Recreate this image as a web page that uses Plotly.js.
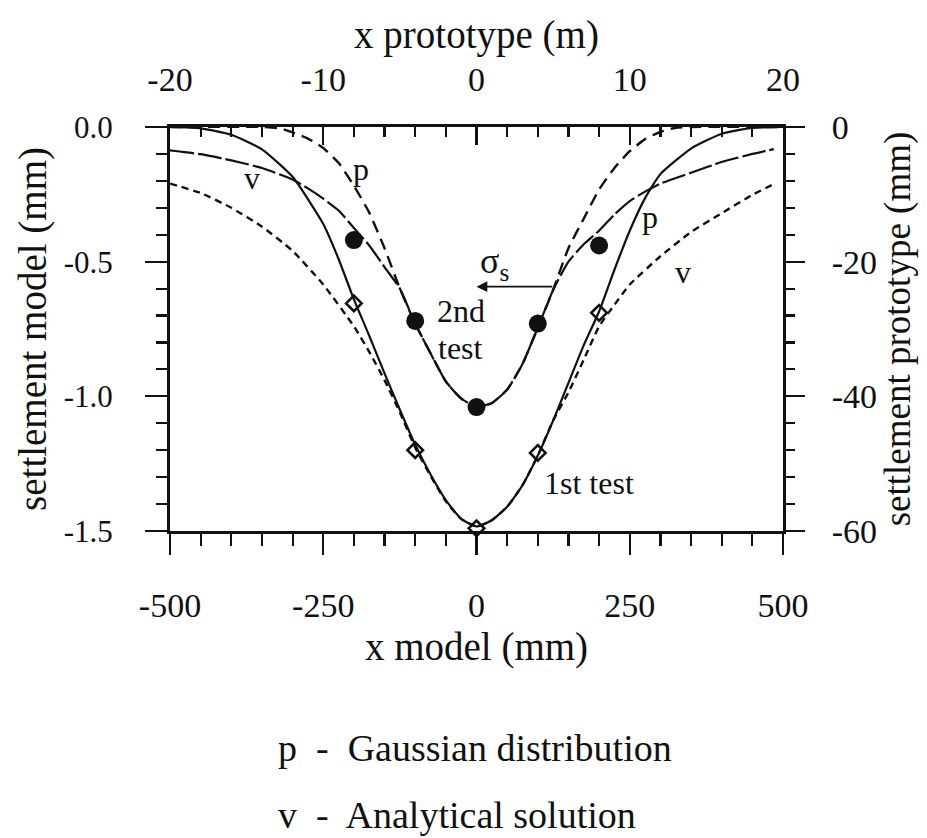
<!DOCTYPE html>
<html>
<head>
<meta charset="utf-8">
<script src="https://cdn.plot.ly/plotly-3.0.1.min.js"></script>
<style>html,body{margin:0;padding:0;background:#fff;}#chart{width:927px;height:838px;}</style>
</head>
<body>
<div id="chart"></div>
<script>
// ---- data (model units: x in mm, settlement in mm) ----
const test1GaussX = [-500,-450,-400,-350,-300,-250,-225,-200,-175,-150,-125,-100,-75,-50,-25,0,25,50,75,100,125,150,175,200,225,250,275,300,350,400,450,500];
const test1GaussY = [0,-0.005,-0.029,-0.083,-0.185,-0.36,-0.49,-0.64,-0.775,-0.915,-1.05,-1.18,-1.29,-1.385,-1.455,-1.483,-1.46,-1.41,-1.33,-1.22,-1.09,-0.95,-0.81,-0.685,-0.53,-0.385,-0.264,-0.175,-0.08,-0.025,-0.003,0];

const test1AnalX = [-500,-450,-400,-350,-300,-250,-200,-175,-150,-125,-100,-75,-50,-25,0,25,50,75,100,125,150,175,200,225,250,300,350,400,450,485];
const test1AnalY = [-0.21,-0.245,-0.30,-0.37,-0.46,-0.585,-0.74,-0.835,-0.94,-1.06,-1.19,-1.295,-1.39,-1.455,-1.483,-1.46,-1.41,-1.33,-1.22,-1.09,-0.985,-0.864,-0.74,-0.66,-0.585,-0.48,-0.39,-0.32,-0.252,-0.212];

const test2GaussX = [-500,-350,-320,-300,-275,-250,-225,-200,-175,-150,-125,-100,-75,-50,-25,0,25,50,75,100,125,150,175,200,225,250,275,300,325,350,500];
const test2GaussY = [0,0,-0.005,-0.02,-0.043,-0.078,-0.133,-0.218,-0.318,-0.45,-0.6,-0.73,-0.84,-0.945,-1.008,-1.039,-1.025,-0.975,-0.88,-0.745,-0.605,-0.45,-0.34,-0.232,-0.152,-0.09,-0.045,-0.018,-0.003,0,0];

const test2AnalX = [-500,-450,-400,-350,-300,-275,-250,-225,-200,-175,-150,-125,-100,-75,-50,-25,0,25,50,75,100,125,150,175,200,225,250,275,300,350,400,450,485];
const test2AnalY = [-0.087,-0.101,-0.124,-0.152,-0.195,-0.228,-0.266,-0.31,-0.375,-0.44,-0.52,-0.6,-0.73,-0.84,-0.945,-1.008,-1.039,-1.025,-0.975,-0.88,-0.745,-0.605,-0.5,-0.435,-0.385,-0.325,-0.275,-0.24,-0.21,-0.17,-0.13,-0.1,-0.082];

const test1PointsX = [-200,-100,0,100,200];
const test1PointsY = [-0.655,-1.20,-1.49,-1.21,-0.69];
const test2PointsX = [-200,-100,0,100,200];
const test2PointsY = [-0.42,-0.72,-1.04,-0.73,-0.44];

// model -> prototype scale factors (1:25 horizontal, 1:40 settlement)
const X_SCALE = 25;
const Y_SCALE = 40;

// ---- tick labels ----
const xModelTicks = [-500,-250,0,250,500];
const xModelLabels = ["-500","-250","0","250","500"];
const xProtoTicks = [-20,-10,0,10,20];
const xProtoLabels = ["-20","-10","0","10","20"];
const yModelTicks = [0,-0.5,-1.0,-1.5];
const yModelLabels = ["0.0","-0.5","-1.0","-1.5"];
const yProtoTicks = [0,-20,-40,-60];
const yProtoLabels = ["0","-20","-40","-60"];

const FONT = "Liberation Serif, Times New Roman, serif";
const BLACK = "#111";

const lineTrace = (x, y, dash, w) => ({
  type: "scatter", mode: "lines", x: x, y: y, xaxis: "x", yaxis: "y",
  line: {color: BLACK, width: w, dash: dash, shape: "spline", smoothing: 0.5},
  hoverinfo: "skip", showlegend: false
});

const traces = [
  lineTrace(test1AnalX, test1AnalY, "7px,5px", 2.4),
  lineTrace(test2AnalX, test2AnalY, "24px,4px", 2.2),
  lineTrace(test2GaussX, test2GaussY, "12px,7px", 2.4),
  lineTrace(test1GaussX, test1GaussY, "solid", 2.2),
  {type: "scatter", mode: "markers", x: test1PointsX, y: test1PointsY, xaxis: "x", yaxis: "y",
   marker: {symbol: "diamond-open", size: 12, color: BLACK, line: {width: 2.6, color: BLACK}},
   showlegend: false, hoverinfo: "skip", cliponaxis: false},
  // 2nd-test points plotted on the prototype axes (converted from the model values)
  {type: "scatter", mode: "markers",
   x: test2PointsX.map(v => v / X_SCALE), y: test2PointsY.map(v => v * Y_SCALE),
   xaxis: "x2", yaxis: "y2",
   marker: {symbol: "circle", size: 18, color: BLACK},
   showlegend: false, hoverinfo: "skip", cliponaxis: false}
];

const tickFont = {family: FONT, size: 34, color: BLACK};
const tickFontY = {family: FONT, size: 31, color: BLACK};
const titleFont = {family: FONT, size: 39, color: BLACK};

const layout = {
  width: 927, height: 838,
  margin: {l: 170, r: 144, t: 127, b: 307, pad: 0},
  paper_bgcolor: "#fff", plot_bgcolor: "#fff",
  showlegend: false,
  font: {family: FONT, color: BLACK},
  xaxis: {
    range: [-500, 500], tickmode: "array", tickvals: xModelTicks, ticktext: xModelLabels,
    ticks: "outside", ticklen: 21, tickwidth: 2.2, tickcolor: BLACK,
    minor: {dtick: 50, tick0: 0, ticks: "outside", ticklen: 12, tickwidth: 2.2, tickcolor: BLACK, showgrid: false},
    showline: true, linewidth: 3, linecolor: BLACK, showgrid: false, zeroline: false,
    tickfont: tickFont, ticklabelstandoff: 21, automargin: false,
    title: {text: "x model (mm)", font: titleFont, standoff: 10}
  },
  xaxis2: {
    overlaying: "x", side: "top", anchor: "y",
    range: [-20, 20], tickmode: "array", tickvals: xProtoTicks, ticktext: xProtoLabels,
    ticks: "inside", ticklen: 18, tickwidth: 2.2, tickcolor: BLACK,
    minor: {dtick: 2, tick0: 0, ticks: "inside", ticklen: 10, tickwidth: 2.2, tickcolor: BLACK, showgrid: false},
    showline: true, linewidth: 3, linecolor: BLACK, showgrid: false, zeroline: false,
    tickfont: tickFont, ticklabelstandoff: 19, automargin: false,
    title: {text: "x prototype (m)", font: titleFont, standoff: 1}
  },
  yaxis: {
    range: [-1.5, 0], tickmode: "array", tickvals: yModelTicks, ticktext: yModelLabels,
    ticks: "outside", ticklen: 22, tickwidth: 2.2, tickcolor: BLACK,
    minor: {dtick: 0.1, tick0: 0, ticks: "outside", ticklen: 11, tickwidth: 2.2, tickcolor: BLACK, showgrid: false},
    showline: true, linewidth: 3, linecolor: BLACK, showgrid: false, zeroline: false,
    tickfont: tickFontY, ticklabelstandoff: 26, automargin: false,
    title: {text: "settlement model (mm)", font: titleFont, standoff: 6}
  },
  yaxis2: {
    overlaying: "y", side: "right", anchor: "x",
    range: [-60, 0], tickmode: "array", tickvals: yProtoTicks, ticktext: yProtoLabels,
    ticks: "outside", ticklen: 19, tickwidth: 2.2, tickcolor: BLACK,
    minor: {dtick: 4, tick0: 0, ticks: "outside", ticklen: 9, tickwidth: 2.2, tickcolor: BLACK, showgrid: false},
    showline: true, linewidth: 3, linecolor: BLACK, showgrid: false, zeroline: false,
    tickfont: tickFont, ticklabelstandoff: 20, automargin: false,
    title: {text: "settlement prototype (mm)", font: {family: FONT, size: 37, color: BLACK}, standoff: 0}
  },
  annotations: [
    {x: -188, y: -0.155, xref: "x", yref: "y", text: "p", showarrow: false, font: {family: FONT, size: 32, color: BLACK}},
    {x: -367, y: -0.19, xref: "x", yref: "y", text: "v", showarrow: false, font: {family: FONT, size: 32, color: BLACK}},
    {x: 283, y: -0.335, xref: "x", yref: "y", text: "p", showarrow: false, font: {family: FONT, size: 32, color: BLACK}},
    {x: 337, y: -0.54, xref: "x", yref: "y", text: "v", showarrow: false, font: {family: FONT, size: 32, color: BLACK}},
    {x: 30, y: -0.505, xref: "x", yref: "y", text: "σ<sub>s</sub>", showarrow: false, font: {family: FONT, size: 36, color: BLACK}},
    {x: 0, y: -0.593, ax: 126, ay: -0.593, xref: "x", yref: "y", axref: "x", ayref: "y",
     text: "", showarrow: true, arrowhead: 2, arrowsize: 1.2, arrowwidth: 1.8, arrowcolor: BLACK},
    {x: -26, y: -0.683, xref: "x", yref: "y", text: "2nd", showarrow: false, font: {family: FONT, size: 32, color: BLACK}},
    {x: -26, y: -0.82, xref: "x", yref: "y", text: "test", showarrow: false, font: {family: FONT, size: 32, color: BLACK}},
    {x: 184, y: -1.32, xref: "x", yref: "y", text: "1st test", showarrow: false, font: {family: FONT, size: 32, color: BLACK}},
    {x: 0.173, y: -0.537, xref: "paper", yref: "paper", xanchor: "left", yanchor: "middle",
     text: "p\u00a0 -\u00a0 Gaussian distribution", showarrow: false, font: {family: FONT, size: 38, color: BLACK}},
    {x: 0.173, y: -0.703, xref: "paper", yref: "paper", xanchor: "left", yanchor: "middle",
     text: "v\u00a0 -\u00a0 Analytical solution", showarrow: false, font: {family: FONT, size: 38, color: BLACK}}
  ]
};

Plotly.newPlot("chart", traces, layout, {staticPlot: true, displayModeBar: false});
</script>
</body>
</html>
